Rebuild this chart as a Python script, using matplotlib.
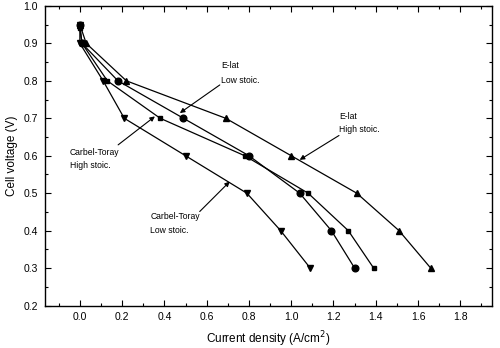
import matplotlib
matplotlib.use("Agg")
import matplotlib.pyplot as plt
from matplotlib.ticker import MultipleLocator

plt.rcParams['font.family'] = ['Liberation Sans', 'DejaVu Sans']

voltage_a = [0.95, 0.9, 0.8, 0.7, 0.6, 0.5, 0.4, 0.3]
elat_high_x = [0.0, 0.03, 0.22, 0.69, 1.0, 1.31, 1.51, 1.66]
elat_low_x = [0.0, 0.01, 0.18, 0.49, 0.80, 1.04, 1.19, 1.30]
carbel_high_x = [0.0, 0.01, 0.13, 0.38, 0.78, 1.08, 1.27, 1.39]
carbel_high_y = [0.94, 0.9, 0.8, 0.7, 0.6, 0.5, 0.4, 0.3]
carbel_low_x = [0.0, 0.0, 0.11, 0.21, 0.50, 0.79, 0.95, 1.09]
carbel_low_y = [0.95, 0.9, 0.8, 0.7, 0.6, 0.5, 0.4, 0.3]

fig = plt.figure(figsize=(5.0, 3.48), dpi=100)
ax = fig.add_axes([0.09, 0.122, 0.894, 0.861])

lk = dict(color='black', lw=0.9, markerfacecolor='black', markeredgecolor='black')
ax.plot(elat_high_x, voltage_a, marker='^', ms=4.3, **lk)
ax.plot(elat_low_x, voltage_a, marker='o', ms=4.8, **lk)
ax.plot(carbel_high_x, carbel_high_y, marker='s', ms=3.0, **lk)
ax.plot(carbel_low_x, carbel_low_y, marker='v', ms=4.5, **lk)

ax.set_xlim(-0.165, 1.95)
ax.set_ylim(0.2, 1.0)
ax.xaxis.set_major_locator(MultipleLocator(0.2))
ax.xaxis.set_minor_locator(MultipleLocator(0.1))
ax.yaxis.set_major_locator(MultipleLocator(0.1))
ax.yaxis.set_minor_locator(MultipleLocator(0.05))
ax.tick_params(which='both', direction='in', top=True, right=True, labelsize=7.5, width=0.8)
ax.tick_params(which='major', length=4)
ax.tick_params(axis='x', which='major', pad=5)
ax.tick_params(axis='y', which='major', pad=5)
ax.tick_params(which='minor', length=2.5)
for s in ax.spines.values():
    s.set_linewidth(1.0)
ax.set_xticks([0.0, 0.2, 0.4, 0.6, 0.8, 1.0, 1.2, 1.4, 1.6, 1.8])
ax.set_xticklabels(['0.0', '0.2', '0.4', '0.6', '0.8', '1.0', '1.2', '1.4', '1.6', '1.8'])
ax.set_xlabel('Current density (A/cm$^2$)', fontsize=8.5, labelpad=5)
ax.set_ylabel('Cell voltage (V)', fontsize=8.5, labelpad=4)

ap = dict(arrowstyle='-|>', color='black', lw=0.8, mutation_scale=7, shrinkA=0, shrinkB=0)
tk = dict(fontsize=6.2, ha='left', va='center')

ax.text(0.67, 0.84, 'E-lat', **tk)
ax.text(0.67, 0.802, 'Low stoic.', **tk)
ax.annotate('', xy=(0.473, 0.714), xytext=(0.662, 0.789), arrowprops=ap)

ax.text(-0.047, 0.608, 'Carbel-Toray', **tk)
ax.text(-0.047, 0.574, 'High stoic.', **tk)
ax.annotate('', xy=(0.355, 0.705), xytext=(0.181, 0.629), arrowprops=ap)

ax.text(1.226, 0.705, 'E-lat', **tk)
ax.text(1.226, 0.669, 'High stoic.', **tk)
ax.annotate('', xy=(1.04, 0.589), xytext=(1.226, 0.654), arrowprops=ap)

ax.text(0.334, 0.438, 'Carbel-Toray', **tk)
ax.text(0.334, 0.40, 'Low stoic.', **tk)
ax.annotate('', xy=(0.709, 0.531), xytext=(0.567, 0.451), arrowprops=ap)

fig.savefig('out.png', dpi=100)
